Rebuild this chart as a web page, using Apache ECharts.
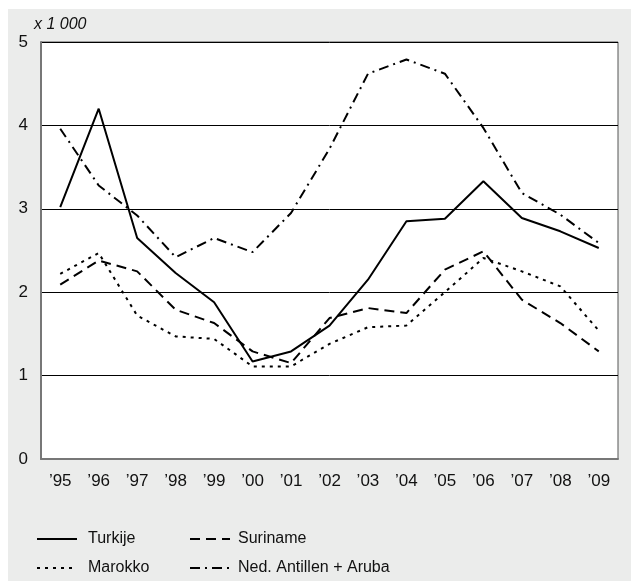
<!DOCTYPE html>
<html>
<head>
<meta charset="utf-8" />
<title>Lijnen per land</title>
<style>
  html, body { margin: 0; padding: 0; background: #fff; }
  #chartBox { width: 631px; height: 581px; }
</style>
</head>
<body>
<div id="chartBox"></div>
<script src="https://cdn.jsdelivr.net/npm/echarts@6/dist/echarts.min.js"></script>
<script>
var years = ["'95", "'96", "'97", "'98", "'99", "'00", "'01", "'02", "'03", "'04", "'05", "'06", "'07", "'08", "'09"];
var yearLabels = years.map(function (y) { return y.replace("'", "\u2019"); });
var turkije = [3.02, 4.20, 2.65, 2.23, 1.88, 1.17, 1.29, 1.60, 2.15, 2.85, 2.88, 3.33, 2.89, 2.73, 2.53];
var suriname = [2.09, 2.38, 2.25, 1.79, 1.63, 1.29, 1.15, 1.69, 1.81, 1.75, 2.27, 2.49, 1.91, 1.63, 1.29];
var marokko = [2.22, 2.47, 1.72, 1.47, 1.44, 1.11, 1.11, 1.38, 1.58, 1.60, 2.00, 2.41, 2.25, 2.07, 1.54];
var antillen = [3.96, 3.28, 2.92, 2.42, 2.65, 2.48, 2.95, 3.72, 4.62, 4.79, 4.62, 3.97, 3.19, 2.93, 2.59];
var yTicks = [0, 1, 2, 3, 4, 5];

var fontFam = 'Liberation Sans, Arial, sans-serif';

function mkLine(name, data, type) {
  return {
    name: name,
    type: 'line',
    data: data,
    symbol: 'none',
    lineStyle: { color: '#000', width: 2, type: type },
    itemStyle: { color: '#000' },
    animation: false
  };
}

// one legend per item so each sits in its own slot
function mkLegend(name, left, top, gap) {
  return {
    left: left, top: top,
    itemWidth: 40, itemHeight: 14,
    itemStyle: { opacity: 0 },
    textStyle: { fontSize: 16, fontFamily: fontFam, color: '#111', padding: [0, 0, 0, gap] },
    data: [name]
  };
}

var chart = echarts.init(document.getElementById('chartBox'));
var option = {
  backgroundColor: '#fff',
  graphic: [{
    type: 'rect',
    left: 8, top: 9,
    shape: { width: 623, height: 572 },
    style: { fill: '#ebeceb' },
    z: -10
  }, {
    type: 'text',
    left: 34, top: 17,
    style: { text: 'x 1 000', font: 'italic 16px ' + fontFam, fill: '#111' }
  }],
  grid: {
    left: 41, right: 13, top: 42, bottom: 122,
    show: true,
    backgroundColor: '#fff',
    borderColor: '#555',
    borderWidth: 1
  },
  legend: [
    mkLegend('Turkije', 31, 526, 6),
    mkLegend('Marokko', 31, 555, 6),
    mkLegend('Suriname', 184, 526, 3),
    mkLegend('Ned. Antillen + Aruba', 184, 555, 3)
  ],
  xAxis: {
    type: 'category',
    data: yearLabels,
    boundaryGap: true,
    axisLine: { lineStyle: { color: '#777', width: 2 } },
    axisTick: { alignWithLabel: true, length: 7, lineStyle: { color: '#444', width: 1 } },
    axisLabel: { color: '#111', fontSize: 17, fontFamily: fontFam, margin: 14 },
    splitLine: { show: false }
  },
  yAxis: {
    type: 'value',
    min: yTicks[0], max: yTicks[yTicks.length - 1], interval: 1,
    axisLine: { show: true, lineStyle: { color: '#777', width: 2 } },
    axisTick: { show: false },
    axisLabel: { color: '#111', fontSize: 17, fontFamily: fontFam, margin: 13 },
    splitLine: { show: true, lineStyle: { color: '#000', width: 1 } }
  },
  series: [
    mkLine('Turkije', turkije, 'solid'),
    mkLine('Suriname', suriname, [10, 6]),
    mkLine('Marokko', marokko, [3, 5]),
    mkLine('Ned. Antillen + Aruba', antillen, [10, 5, 2, 5])
  ]
};
chart.setOption(option);
</script>
</body>
</html>
